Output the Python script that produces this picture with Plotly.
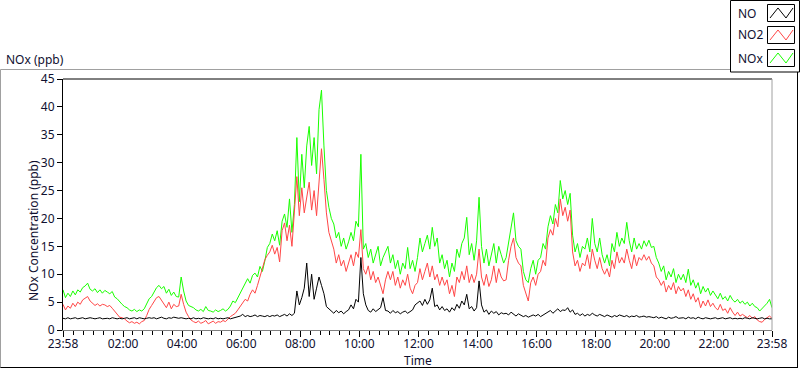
import pandas as pd
import plotly.graph_objects as go

# ---------------- data (5-minute samples from 23:58 to 23:58 next day) ----------------
START = "2024-01-01 23:58"
STEP_MIN = 5

NOX = [
    7.2, 5.8, 6.6, 6.0, 7.0, 6.3, 7.2, 6.8, 7.6, 7.9, 8.4, 7.3,          # 23:58-00:53
    7.0, 7.4, 6.7, 7.2, 6.6, 7.1, 6.8, 6.5, 6.9, 5.9, 5.6, 5.0,          # 00:58-01:53
    4.6, 4.2, 4.0, 3.6, 3.4, 3.7, 3.3, 3.6, 3.4, 3.8, 4.6, 5.6,          # 01:58-02:53
    6.0, 6.9, 7.6, 8.0, 7.4, 7.8, 6.6, 7.3, 6.2, 6.8, 6.0, 5.9,          # 02:58-03:53
    9.5, 7.0, 5.2, 4.4, 4.2, 4.0, 3.6, 3.4, 3.7, 3.3, 4.2, 3.5,          # 03:58-04:53
    3.4, 3.2, 3.6, 3.3, 3.5, 3.8, 3.4, 3.7, 4.3, 5.2, 4.9, 5.8,          # 04:58-05:53
    6.5, 7.4, 8.6, 9.2, 8.4, 9.8, 10.2, 9.5, 11.4, 10.5, 12.4, 14.8,     # 05:58-06:53
    15.5, 17.2, 16.0, 17.8, 15.2, 19.5, 20.8, 18.4, 23.5, 17.5, 22.5, 34.5,  # 06:58-07:53
    23.0, 31.5, 25.5, 33.0, 36.5, 29.5, 34.5, 28.0, 39.5, 43.0, 33.0, 25.0,  # 07:58-08:53
    22.0, 20.0, 19.0, 16.5, 17.5, 15.0, 16.5, 14.5, 15.8, 17.5, 16.0, 19.5,  # 08:58-09:53
    18.5, 31.5, 14.5, 15.5, 13.0, 14.5, 12.0, 13.5, 15.0, 11.5, 13.0, 14.0,  # 09:58-10:53
    15.0, 12.0, 13.5, 11.0, 12.5, 10.0, 12.0, 11.0, 14.8, 11.0, 12.5, 10.5,  # 10:58-11:53
    13.0, 16.5, 14.0, 15.5, 17.0, 14.5, 18.4, 15.0, 16.5, 12.0, 13.5, 11.0,  # 11:58-12:53
    12.5, 9.5, 12.0, 10.5, 14.5, 13.0, 15.5, 16.5, 20.2, 13.5, 15.5, 12.5,   # 12:58-13:53
    16.0, 23.8, 15.0, 12.0, 14.5, 11.5, 13.5, 15.5, 12.0, 15.0, 13.5, 12.0,  # 13:58-14:53
    13.0, 15.5, 18.5, 21.0, 16.0, 15.0, 14.5, 10.5, 9.0, 8.5, 11.0, 12.5,    # 14:58-15:53
    10.0, 12.5, 13.0, 15.5, 14.5, 18.5, 20.5, 19.0, 22.5, 21.0, 26.8, 23.5,  # 15:58-16:53
    25.0, 22.5, 24.5, 17.0, 14.0, 15.5, 13.0, 15.0, 14.5, 16.5, 14.0, 20.0,  # 16:58-17:53
    15.5, 14.0, 16.5, 13.5, 12.0, 13.5, 11.5, 15.5, 14.0, 17.5, 15.0, 16.5,  # 17:58-18:53
    15.5, 19.3, 16.0, 14.0, 16.5, 14.5, 15.5, 14.5, 16.0, 15.0, 16.1, 14.8,  # 18:58-19:53
    15.0, 13.0, 12.0, 10.5, 11.5, 9.0, 10.5, 9.5, 11.0, 8.5, 10.0, 9.0,      # 19:58-20:53
    10.0, 8.5, 10.9, 8.0, 9.0, 7.5, 8.5, 6.5, 7.8, 6.8, 7.5, 6.2,            # 20:58-21:53
    7.0, 6.2, 5.6, 6.6, 5.5, 6.0, 5.2, 6.2, 5.4, 5.0, 5.5, 4.8,              # 21:58-22:53
    5.2, 4.6, 5.0, 4.3, 4.8, 4.2, 4.0, 3.4, 3.9, 4.2, 4.8, 5.5, 4.0,         # 22:58-23:58
]

NO2 = [
    4.6, 3.6, 4.3, 3.9, 4.8, 4.2, 5.0, 4.6, 5.4, 5.7, 6.0, 5.2,
    4.8, 4.4, 4.7, 4.3, 4.6, 4.5, 4.2, 4.4, 3.9, 3.4, 2.8, 2.3,
    2.2, 2.0, 1.6, 1.3, 1.5, 1.2, 1.4, 1.1, 1.5, 1.7, 2.6, 3.7,
    4.4, 5.2, 5.8, 6.0, 5.3, 4.8, 4.0, 5.0, 3.8, 4.6, 4.2, 4.3,
    6.4, 4.6, 3.2, 2.4, 1.8, 1.5, 1.3, 1.6, 1.2, 1.4, 1.7, 1.1,
    1.3, 1.6, 1.2, 1.5, 1.4, 1.7, 1.5, 2.0, 2.4, 2.7, 3.0, 3.6,
    4.2, 5.0, 5.5, 5.2, 6.4, 7.2, 6.6, 8.0, 9.6, 11.0, 12.6, 13.4,
    14.0, 15.2, 13.6, 14.8, 12.2, 17.8, 19.2, 16.0, 18.8, 15.0, 20.5, 27.5,
    20.5, 25.5, 21.0, 24.0, 26.5, 21.5, 25.0, 20.5, 26.0, 32.5, 27.0, 21.0,
    17.5, 16.0, 14.5, 12.0, 13.5, 11.5, 12.5, 10.5, 12.0, 13.5, 11.5, 14.0,
    13.0, 18.0, 11.0, 10.0, 11.5, 9.0, 10.5, 8.5, 9.5, 8.0, 6.5, 9.0,
    10.5, 9.0, 10.5, 8.0, 9.5, 7.5, 9.0, 8.0, 10.0, 7.5, 6.5, 8.0,
    8.5, 11.0, 9.0, 10.5, 12.0, 9.5, 11.5, 9.0, 10.0, 8.0, 9.5, 8.0,
    9.0, 6.5, 8.0, 6.0, 9.5, 8.5, 10.5, 9.0, 11.5, 8.5, 10.0, 8.5,
    10.0, 14.5, 9.5, 8.0, 10.0, 7.8, 9.0, 11.5, 8.5, 11.0, 9.5, 8.8,
    9.0, 12.5, 15.0, 16.5, 13.0, 12.0, 11.5, 8.0, 6.5, 5.2, 8.5, 9.5,
    8.0, 10.0, 10.5, 12.5, 11.5, 16.5, 18.0, 17.0, 20.0, 18.5, 23.5, 20.5,
    22.0, 19.5, 21.5, 14.0, 11.5, 12.5, 10.5, 12.0, 11.5, 13.5, 11.0, 14.5,
    12.5, 11.0, 13.0, 11.0, 10.0, 11.0, 9.5, 12.5, 11.0, 14.0, 12.0, 13.0,
    12.0, 14.5, 12.5, 11.0, 13.5, 11.5, 13.0, 12.5, 13.5, 12.5, 13.2, 12.0,
    11.5, 9.5, 9.0, 8.0, 8.8, 6.8, 8.0, 7.2, 8.5, 6.5, 7.8, 7.0,
    7.5, 6.0, 7.2, 5.5, 6.5, 5.0, 5.8, 4.0, 5.2, 4.3, 5.4, 4.2,
    4.8, 4.0, 3.6, 4.6, 3.5, 3.8, 3.0, 4.0, 3.2, 2.6, 3.2, 2.5,
    2.8, 2.5, 2.2, 2.6, 2.1, 2.4, 1.8, 1.5, 1.4, 1.9, 2.2, 2.5, 2.1,
]

NO = [
    2.1, 2.0, 2.2, 2.0, 2.1, 2.2, 2.0, 2.1, 2.2, 2.0, 2.1, 2.2,
    2.1, 2.0, 2.1, 2.2, 2.0, 2.1, 2.1, 2.0, 2.2, 2.1, 2.0, 2.1,
    2.0, 2.1, 2.2, 2.0, 2.1, 2.2, 2.0, 2.2, 2.1, 2.0, 2.1, 2.2,
    2.1, 2.2, 2.0, 2.1, 2.3, 2.1, 2.0, 2.2, 2.1, 2.3, 2.2, 2.1,
    2.2, 2.1, 2.0, 2.1, 2.0, 2.2, 2.0, 2.1, 2.0, 2.2, 2.1, 2.0,
    2.1, 2.0, 2.2, 2.0, 2.1, 2.0, 2.1, 2.2, 2.0, 2.1, 2.2, 2.3,
    2.5, 2.8, 2.4, 2.6, 2.4, 2.5, 2.7, 2.4, 2.6, 2.5, 2.4, 2.6,
    2.4, 2.6, 2.5, 2.7, 2.4, 2.6, 2.8, 2.5, 2.9, 2.6, 3.0, 7.0,
    4.5, 5.8, 7.5, 12.0, 6.0, 10.0, 5.5, 7.5, 9.5, 8.0, 6.5, 4.2,
    3.8, 3.3, 3.0, 3.5, 3.1, 3.4, 2.9, 3.3, 3.6, 4.5, 3.8, 5.5,
    5.0, 13.0, 6.5, 4.5, 3.5, 3.2, 3.8, 3.3, 3.6, 4.0, 5.8, 3.5,
    3.4, 3.0, 3.5, 3.1, 3.3, 2.9, 3.2, 3.4, 3.0, 3.3, 3.6, 4.5,
    4.8, 5.2, 4.4, 5.5, 4.6, 5.4, 7.5, 4.2, 4.5, 3.6, 4.2, 3.5,
    3.8, 3.2, 4.0, 3.5, 4.6, 3.9, 5.2, 4.5, 6.4, 3.8, 4.2, 3.4,
    4.0, 8.8, 4.5, 3.2, 3.6, 2.8, 3.4, 3.0, 3.3, 2.7, 3.1, 2.9,
    3.0, 2.7, 3.2, 2.8, 2.5, 2.9, 2.6, 2.4, 2.6, 2.3, 2.5, 2.7,
    2.5, 2.8, 2.4, 2.7, 3.0, 3.2, 3.5, 3.0, 3.4, 3.8, 3.3, 3.6,
    3.5, 4.0, 3.2, 3.6, 2.8, 3.0, 2.6, 2.9, 2.5, 2.8, 2.6, 3.0,
    2.7, 2.5, 2.8, 2.6, 2.4, 2.7, 2.5, 2.3, 2.6, 2.4, 2.7, 2.5,
    2.4, 2.6, 2.3, 2.5, 2.4, 2.6, 2.3, 2.4, 2.5, 2.3, 2.4, 2.3,
    2.2, 2.4, 2.1, 2.3, 2.2, 2.0, 2.3, 2.1, 2.2, 2.4, 2.1, 2.2,
    2.2, 2.0, 2.3, 2.1, 2.2, 2.0, 2.3, 2.1, 2.0, 2.2, 2.1, 2.0,
    2.1, 2.2, 2.0, 2.1, 2.2, 2.0, 2.1, 2.2, 2.0, 2.1, 2.0, 2.1,
    2.0, 2.2, 2.1, 2.0, 2.2, 2.1, 2.0, 2.1, 2.2, 2.0, 2.1, 2.0, 2.0,
]

SERIES_NAMES = ["NO", "NO2", "NOx"]
SERIES_COLORS = {"NO": "#000000", "NO2": "#ff4646", "NOx": "#19ff00"}

X_TICK_VALS = ["2024-01-01 23:58", "2024-01-02 02:00", "2024-01-02 04:00", "2024-01-02 06:00",
               "2024-01-02 08:00", "2024-01-02 10:00", "2024-01-02 12:00", "2024-01-02 14:00",
               "2024-01-02 16:00", "2024-01-02 18:00", "2024-01-02 20:00", "2024-01-02 22:00",
               "2024-01-02 23:58"]
X_TICK_TEXT = ["23:58", "02:00", "04:00", "06:00", "08:00", "10:00", "12:00", "14:00",
               "16:00", "18:00", "20:00", "22:00", "23:58"]
Y_TICKS = [0, 5, 10, 15, 20, 25, 30, 35, 40, 45]

times = pd.date_range(START, periods=len(NOX), freq=f"{STEP_MIN}min")

FONT = "Noto Sans, Segoe UI, DejaVu Sans, sans-serif"
TXT = "#101030"

# ---------------- figure ----------------
W, H = 800, 369
L, R, T, B = 63, 772, 79, 330
PW, PH = R - L, B - T


def px(x):
    return (x - L) / PW


def py(y):
    return (B - y) / PH


fig = go.Figure()
series = {"NOx": NOX, "NO2": NO2, "NO": NO}
for name in ["NOx", "NO2", "NO"]:
    fig.add_trace(go.Scatter(x=times, y=series[name], mode="lines", name=name,
                             line=dict(color=SERIES_COLORS[name], width=1),
                             showlegend=False, hoverinfo="skip"))

fig.update_layout(
    width=W, height=H,
    margin=dict(l=L, r=W - R, t=T, b=H - B, pad=0),
    paper_bgcolor="white", plot_bgcolor="white",
    font=dict(family=FONT, size=12, color=TXT),
    showlegend=False,
)

fig.update_xaxes(
    automargin=False,
    range=[times[0], times[-1]],
    tickmode="array", tickvals=X_TICK_VALS, ticktext=X_TICK_TEXT,
    ticks="outside", ticklen=6, tickwidth=1, tickcolor="black",
    ticklabelstandoff=-3,
    minor=dict(ticks="outside", ticklen=4, tickwidth=1, tickcolor="black",
               dtick=20 * 60 * 1000, tick0="2024-01-02 00:00", showgrid=False),
    showgrid=False, zeroline=False,
    showline=True, linecolor="#808080", linewidth=1,
    tickfont=dict(family=FONT, size=12, color=TXT),
)
fig.update_yaxes(
    automargin=False,
    range=[0, 45], tickmode="array", tickvals=Y_TICKS,
    ticks="outside", ticklen=5, tickwidth=1, tickcolor="black",
    showgrid=False, zeroline=False,
    showline=True, linecolor="black", linewidth=1,
    tickfont=dict(family=FONT, size=12, color=TXT),
)

shapes = []
# plot area top (black) and right (gray) edges
shapes.append(dict(type="line", xref="paper", yref="paper", x0=0, x1=1, y0=1, y1=1,
                   line=dict(color="black", width=1)))
shapes.append(dict(type="line", xref="paper", yref="paper", x0=1, x1=1, y0=0, y1=1,
                   line=dict(color="#a0a0a0", width=1)))
# outer chart frame
shapes.append(dict(type="line", xref="paper", yref="paper", x0=px(0.5), x1=px(730), y0=py(69.5), y1=py(69.5),
                   line=dict(color="#a0a0a0", width=1)))
shapes.append(dict(type="line", xref="paper", yref="paper", x0=px(0.5), x1=px(0.5), y0=py(69.5), y1=py(368),
                   line=dict(color="#a0a0a0", width=1)))
shapes.append(dict(type="line", xref="paper", yref="paper", x0=px(0.5), x1=px(798), y0=py(367.5), y1=py(367.5),
                   line=dict(color="black", width=1)))
shapes.append(dict(type="line", xref="paper", yref="paper", x0=px(797.5), x1=px(797.5), y0=py(72), y1=py(368),
                   line=dict(color="black", width=1)))
# legend box
shapes.append(dict(type="rect", xref="paper", yref="paper", x0=px(730.5), x1=px(799.5), y0=py(0.5), y1=py(72),
                   line=dict(color="black", width=1), fillcolor="white"))

annotations = [
    dict(text="NOx (ppb)", xref="paper", yref="paper", x=px(4), y=py(59), xanchor="left", yanchor="middle",
         showarrow=False, font=dict(family=FONT, size=12, color=TXT)),
    dict(text="Time", xref="paper", yref="paper", x=px(417.5), y=py(360.5), xanchor="center", yanchor="middle",
         showarrow=False, font=dict(family=FONT, size=12, color=TXT)),
    dict(text="NOx Concentration (ppb)", xref="paper", yref="paper", x=px(33), y=py(231),
         xanchor="center", yanchor="middle", textangle=-90,
         showarrow=False, font=dict(family=FONT, size=12, color=TXT)),
]

legend_rows_y = [13, 35, 58]
for name, ty in zip(SERIES_NAMES, legend_rows_y):
    annotations.append(dict(text=name, xref="paper", yref="paper", x=px(736), y=py(ty),
                            xanchor="left", yanchor="middle", showarrow=False,
                            font=dict(family=FONT, size=12, color=TXT)))
    top, bot = ty - 8.5, ty + 8.5
    shapes.append(dict(type="rect", xref="paper", yref="paper", x0=px(767.5), x1=px(794.5),
                       y0=py(top), y1=py(bot), line=dict(color="black", width=1), fillcolor="white"))
    pts = [(770, bot - 3.5), (778, top + 3.5), (786, bot - 3.5), (793, top + 3.5)]
    path = "M " + " L ".join(f"{px(a):.5f},{py(b):.5f}" for a, b in pts)
    shapes.append(dict(type="path", xref="paper", yref="paper", path=path,
                       line=dict(color=SERIES_COLORS[name], width=1)))

fig.update_layout(shapes=shapes, annotations=annotations)

fig.write_html("out.html", config={"displayModeBar": False},
               post_script="document.body.style.margin='0';document.body.style.padding='0';")
